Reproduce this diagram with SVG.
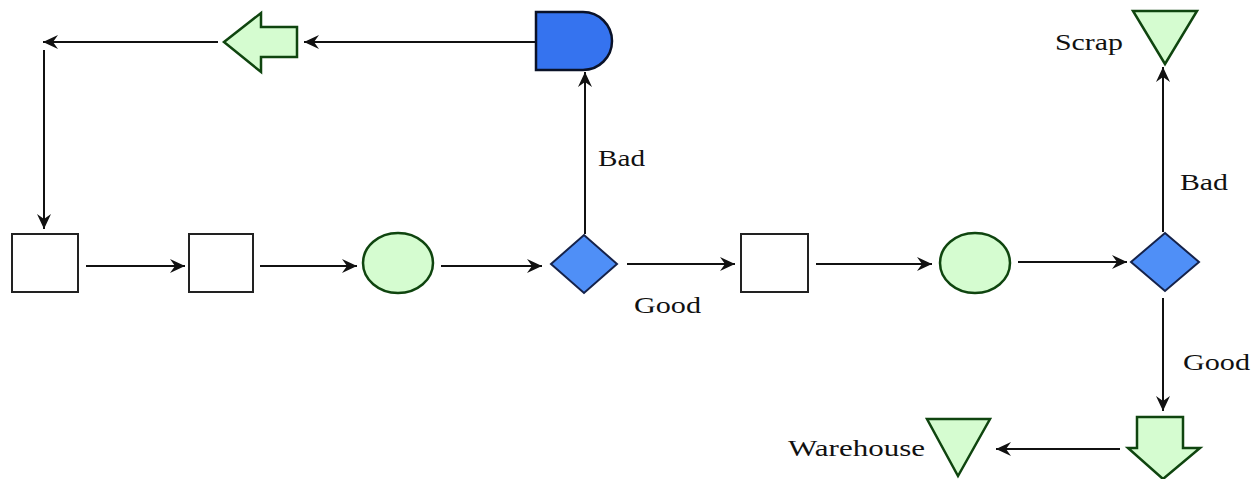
<svg xmlns="http://www.w3.org/2000/svg" width="1255" height="479" viewBox="0 0 1255 479">
<style>
.box{fill:#ffffff;stroke:#222222;stroke-width:2}
.grn{fill:#d5fcd0;stroke:#0f450f;stroke-width:2.5;stroke-linejoin:miter}
.blu{fill:#4f8ff7;stroke:#15224a;stroke-width:2}
.dly{fill:#3573ef;stroke:#0a1228;stroke-width:2.5}
.ln{fill:none;stroke:#111111;stroke-width:2}
.lbl{font-family:"Liberation Serif","Times New Roman",serif;font-size:24px;fill:#111111}
</style>
<defs>
<marker id="ah" markerUnits="userSpaceOnUse" markerWidth="16" markerHeight="14" refX="15" refY="7" orient="auto">
<path d="M0,0 L15,7 L0,14 L5,7 z" fill="#111111"/>
</marker>
</defs>
<rect x="0" y="0" width="1255" height="479" fill="#ffffff"/>
<g id="connectors">
<line class="ln" x1="86" y1="266" x2="185" y2="266" marker-end="url(#ah)"/>
<line class="ln" x1="260" y1="266" x2="357" y2="266" marker-end="url(#ah)"/>
<line class="ln" x1="441" y1="266" x2="542" y2="266" marker-end="url(#ah)"/>
<line class="ln" x1="627" y1="264" x2="735" y2="264" marker-end="url(#ah)"/>
<line class="ln" x1="816" y1="264" x2="932" y2="264" marker-end="url(#ah)"/>
<line class="ln" x1="1018" y1="262" x2="1127" y2="262" marker-end="url(#ah)"/>
<line class="ln" x1="585" y1="234" x2="585" y2="72" marker-end="url(#ah)"/>
<line class="ln" x1="536" y1="42" x2="304" y2="42" marker-end="url(#ah)"/>
<line class="ln" x1="218" y1="42" x2="43" y2="42" marker-end="url(#ah)"/>
<line class="ln" x1="44" y1="50" x2="44" y2="229" marker-end="url(#ah)"/>
<line class="ln" x1="1163" y1="232" x2="1163" y2="67" marker-end="url(#ah)"/>
<line class="ln" x1="1163" y1="298" x2="1163" y2="411" marker-end="url(#ah)"/>
<line class="ln" x1="1120" y1="449" x2="996" y2="449" marker-end="url(#ah)"/>
</g>
<g id="box1"><rect class="box" x="12" y="234" width="66" height="58"/></g>
<g id="box2"><rect class="box" x="189" y="234" width="64" height="58"/></g>
<g id="circle1"><ellipse class="grn" cx="398" cy="263" rx="35" ry="30"/></g>
<g id="decision1"><polygon class="blu" points="551,264 584,235 617,264 584,293"/></g>
<g id="box3"><rect class="box" x="741" y="234" width="67" height="58"/></g>
<g id="circle2"><ellipse class="grn" cx="975" cy="263" rx="35" ry="30"/></g>
<g id="decision2"><polygon class="blu" points="1131,262 1165,233 1199,262 1165,291"/></g>
<g id="delay"><path class="dly" d="M536,12 L583,12 A29,29 0 0 1 583,70 L536,70 Z"/></g>
<g id="leftarrow"><polygon class="grn" points="224,42 261,13 261,27 297,27 297,57 261,57 261,72"/></g>
<g id="scrap"><polygon class="grn" points="1133,11 1197,11 1165,64"/></g>
<g id="downarrow"><polygon class="grn" points="1137,417 1183,417 1183,448 1200,448 1163,479 1128,448 1137,448"/></g>
<g id="warehouse"><polygon class="grn" points="927,419 990,419 958,476"/></g>
<g id="labels">
<text class="lbl" x="598" y="166" textLength="47" lengthAdjust="spacingAndGlyphs">Bad</text>
<text class="lbl" x="634" y="313" textLength="67" lengthAdjust="spacingAndGlyphs">Good</text>
<text class="lbl" x="1180" y="190" textLength="48" lengthAdjust="spacingAndGlyphs">Bad</text>
<text class="lbl" x="1183" y="370" textLength="67" lengthAdjust="spacingAndGlyphs">Good</text>
<text class="lbl" x="1055" y="50" textLength="68" lengthAdjust="spacingAndGlyphs">Scrap</text>
<text class="lbl" x="788" y="456" textLength="137" lengthAdjust="spacingAndGlyphs">Warehouse</text>
</g>
</svg>
